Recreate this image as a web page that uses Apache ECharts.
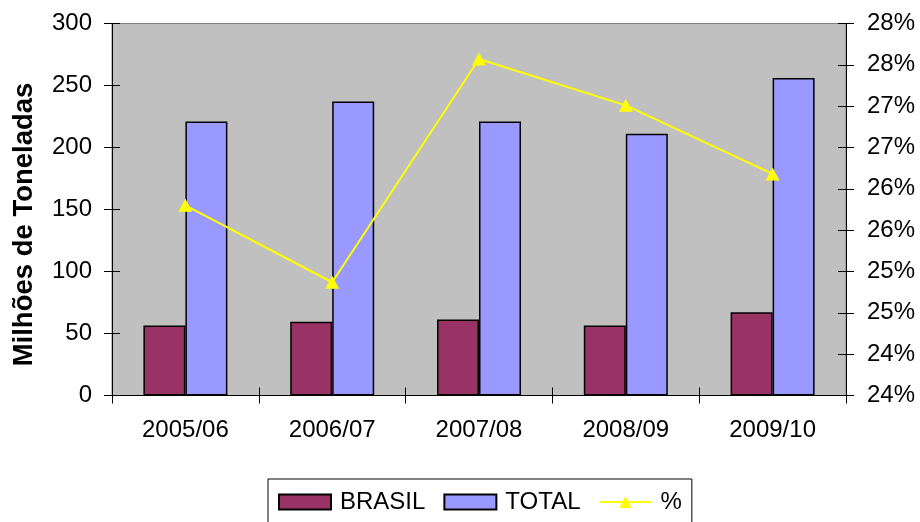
<!DOCTYPE html>
<html>
<head>
<meta charset="utf-8">
<script src="https://cdn.jsdelivr.net/npm/echarts@6/dist/echarts.min.js"></script>
<style>
  html, body { margin: 0; padding: 0; background: #ffffff; }
  #chart { width: 920px; height: 522px; }
</style>
</head>
<body>
<div id="chart"></div>
<script>
// Harvest seasons
const categories = ['2005/06', '2006/07', '2007/08', '2008/09', '2009/10'];
// Production, millions of tonnes
const brasil = [56.5, 59.4, 61.3, 56.5, 67.2];
const total = [221, 237, 221, 211, 256];
// Brazil's share of the total, in percent
const share = [25.8, 24.87, 27.57, 27.01, 26.18];

const FONT = '"Liberation Sans", Arial, sans-serif';

const chart = echarts.init(document.getElementById('chart'), null, { renderer: 'canvas' });

const hiddenLabels = { show: false };
const noLine = { show: false };

chart.setOption({
  backgroundColor: '#ffffff',
  animation: false,
  textStyle: { fontFamily: FONT, color: '#000' },
  grid: {
    left: 112, right: 74, top: 23.5, bottom: 126.5,
    containLabel: false,
    outerBoundsMode: 'none',
    show: true,
    backgroundColor: '#c0c0c0',
    borderColor: '#808080',
    borderWidth: 1
  },
  legend: {
    data: [
      { name: 'BRASIL', icon: 'rect' },
      { name: 'TOTAL', icon: 'rect' },
      { name: '%' }
    ],
    left: 268,
    top: 479,
    padding: [11, 10, 30, 10],
    borderColor: '#000',
    borderWidth: 1,
    itemWidth: 52,
    itemHeight: 15,
    itemGap: 18,
    textStyle: { fontFamily: FONT, fontSize: 24, color: '#000', padding: [0, 0, 0, 4] }
  },
  xAxis: [
    {
      type: 'category',
      data: categories,
      position: 'bottom',
      boundaryGap: true,
      axisLine: { show: true, lineStyle: { color: '#000', width: 1 } },
      axisTick: { show: true, length: 8, inside: false, lineStyle: { color: '#000' } },
      axisLabel: { fontFamily: FONT, fontSize: 24, color: '#000', margin: 23 },
      splitLine: { show: false }
    },
    {
      // inward half of the crossing tick marks
      type: 'category',
      data: categories,
      position: 'bottom',
      boundaryGap: true,
      axisLine: noLine,
      axisTick: { show: true, length: 8, inside: true, lineStyle: { color: '#000' } },
      axisLabel: hiddenLabels,
      splitLine: { show: false }
    }
  ],
  yAxis: [
    {
      type: 'value',
      position: 'left',
      min: 0, max: 300, interval: 50,
      name: 'Milhões de Toneladas',
      nameLocation: 'middle',
      nameGap: 74,
      nameRotate: 90,
      nameTextStyle: { fontFamily: FONT, fontSize: 27.5, fontWeight: 'bold', color: '#000', padding: [0, 30, 0, 0] },
      axisLine: { show: true, lineStyle: { color: '#000', width: 1 } },
      axisTick: { show: true, length: 8, inside: false, lineStyle: { color: '#000' } },
      axisLabel: { fontFamily: FONT, fontSize: 24, color: '#000', margin: 20 },
      splitLine: { show: false }
    },
    {
      type: 'value',
      position: 'right',
      min: 23.5, max: 28, interval: 0.5,
      axisLine: { show: true, lineStyle: { color: '#000', width: 1 } },
      axisTick: { show: true, length: 8, inside: false, lineStyle: { color: '#000' } },
      axisLabel: {
        fontFamily: FONT, fontSize: 24, color: '#000', margin: 21,
        formatter: v => Math.round(v) + '%'
      },
      splitLine: { show: false }
    },
    {
      type: 'value',
      position: 'left',
      min: 0, max: 300, interval: 50,
      axisLine: noLine,
      axisTick: { show: true, length: 8, inside: true, lineStyle: { color: '#000' } },
      axisLabel: hiddenLabels,
      splitLine: { show: false }
    },
    {
      type: 'value',
      position: 'right',
      min: 23.5, max: 28, interval: 0.5,
      axisLine: noLine,
      axisTick: { show: true, length: 8, inside: true, lineStyle: { color: '#000' } },
      axisLabel: hiddenLabels,
      splitLine: { show: false }
    }
  ],
  series: [
    {
      name: 'BRASIL',
      type: 'bar',
      data: brasil,
      barWidth: 42,
      barGap: '0%',
      itemStyle: { color: '#993366', borderColor: '#000', borderWidth: 1.5 }
    },
    {
      name: 'TOTAL',
      type: 'bar',
      data: total,
      barWidth: 42,
      barGap: '0%',
      itemStyle: { color: '#9999ff', borderColor: '#000', borderWidth: 1.5 }
    },
    {
      name: '%',
      type: 'line',
      yAxisIndex: 1,
      data: share,
      symbol: 'triangle',
      symbolSize: [14, 13],
      lineStyle: { color: '#ffff00', width: 2 },
      itemStyle: { color: '#ffff00', borderWidth: 0 },
      z: 5
    }
  ]
});
</script>
</body>
</html>
